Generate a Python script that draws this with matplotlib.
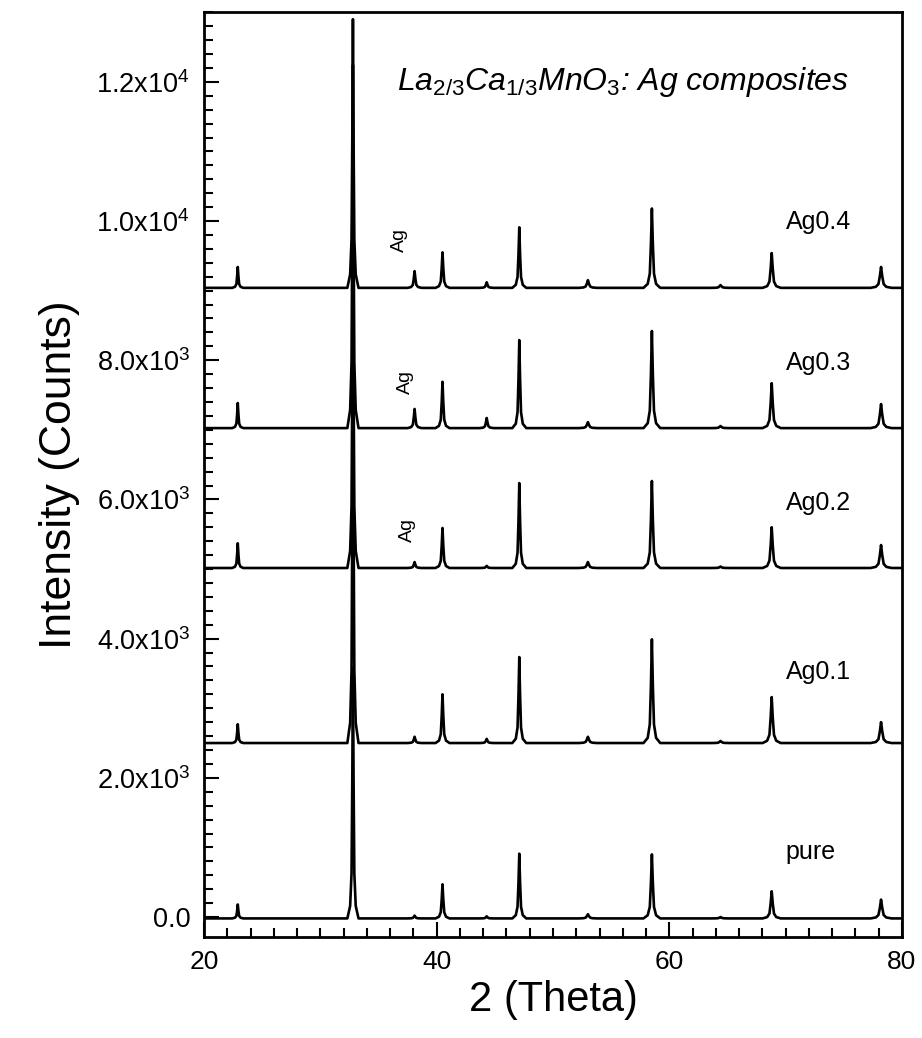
import numpy as np
import matplotlib
matplotlib.use('Agg')
import matplotlib.pyplot as plt

plt.rcParams['font.family'] = ['Liberation Sans', 'DejaVu Sans']
plt.rcParams['mathtext.fontset'] = 'custom'
plt.rcParams['mathtext.rm'] = 'Liberation Sans'
plt.rcParams['mathtext.it'] = 'Liberation Sans:italic'

# peak positions (2 theta)
peaks = [22.9, 32.8, 38.1, 40.5, 44.3, 47.1, 53.0, 58.5, 64.4, 68.8, 78.2]
peak_width = [0.8, 0.8, 1.0, 1.0, 1.0, 1.0, 1.3, 1.2, 1.3, 1.3, 1.5]

# sample names, baselines (counts) and peak heights above baseline
samples = ['pure', 'Ag0.1', 'Ag0.2', 'Ag0.3', 'Ag0.4']
baselines = [-20, 2500, 5015, 7025, 9040]
h_pure = [200, 3600, 40, 490, 30, 930, 60, 920, 20, 390, 270]
h_ag01 = [270, 5800, 90, 700, 60, 1235, 90, 1490, 30, 660, 300]
h_ag02 = [355, 4900, 85, 575, 30, 1220, 85, 1250, 20, 585, 330]
h_ag03 = [360, 5220, 275, 665, 145, 1265, 85, 1395, 30, 645, 345]
h_ag04 = [300, 3860, 240, 510, 80, 870, 110, 1140, 40, 500, 300]
heights = [h_pure, h_ag01, h_ag02, h_ag03, h_ag04]

# label positions
label_y = [935, 3520, 5950, 7960, 9985]
ag_mark_x = [37.5, 37.3, 36.8]
ag_mark_y = [5560, 7690, 9730]

# peak outline shape (offset in degrees, fraction of height)
prof_dx = [-0.6, -0.3, -0.15, -0.07, 0.0, 0.07, 0.15, 0.3, 0.6]
prof_fr = [0.0, 0.05, 0.18, 0.55, 1.0, 0.55, 0.18, 0.05, 0.0]


def pattern(base, h):
    xs = [20.0]
    ys = [base]
    for c, w, a in zip(peaks, peak_width, h):
        for dx, fr in zip(prof_dx, prof_fr):
            xs.append(c + dx * w)
            ys.append(base + fr * a)
    xs.append(80.0)
    ys.append(base)
    return np.array(xs), np.array(ys)


fig = plt.figure(figsize=(9.22, 10.38), dpi=100)
ax = fig.add_axes([0.2213, 0.0973, 0.7570, 0.8911])

for base, h in zip(baselines, heights):
    x, y = pattern(base, h)
    ax.plot(x, y, color='black', lw=1.9)

for name, ly in zip(samples, label_y):
    ax.text(70.0, ly, name, fontsize=18, va='center', ha='left')

for mx, my in zip(ag_mark_x, ag_mark_y):
    ax.text(mx, my, 'Ag', fontsize=14, rotation=90, ha='center', va='center')

ax.text(36.6, 12000, r'$La_{2/3}Ca_{1/3}MnO_3$: Ag composites',
        fontsize=23, style='italic', va='center', ha='left')

ax.set_xlim(20, 80)
ax.set_ylim(-287, 13003)
ax.set_xticks([20, 40, 60, 80])
ax.set_xticks(np.arange(20, 81, 2), minor=True)
yt = [0, 2000, 4000, 6000, 8000, 10000, 12000]
ylabels = ['0.0', r'2.0x10$^{3}$', r'4.0x10$^{3}$', r'6.0x10$^{3}$',
           r'8.0x10$^{3}$', r'1.0x10$^{4}$', r'1.2x10$^{4}$']
ax.set_yticks(yt)
ax.set_yticklabels(ylabels)
ax.set_yticks(np.arange(0, 13001, 200), minor=True)

ax.tick_params(which='both', direction='in', top=False, right=False, width=1.5)
ax.tick_params(which='major', length=11)
ax.tick_params(which='minor', length=6.5)
ax.tick_params(axis='y', labelsize=19.5, pad=10)
ax.tick_params(axis='x', labelsize=19, pad=9)
for s in ax.spines.values():
    s.set_linewidth(2)

ax.set_xlabel('2 (Theta)', fontsize=30, labelpad=5)
ax.set_ylabel('Intensity (Counts)', fontsize=32, labelpad=12)

fig.savefig('out.png', dpi=100)
